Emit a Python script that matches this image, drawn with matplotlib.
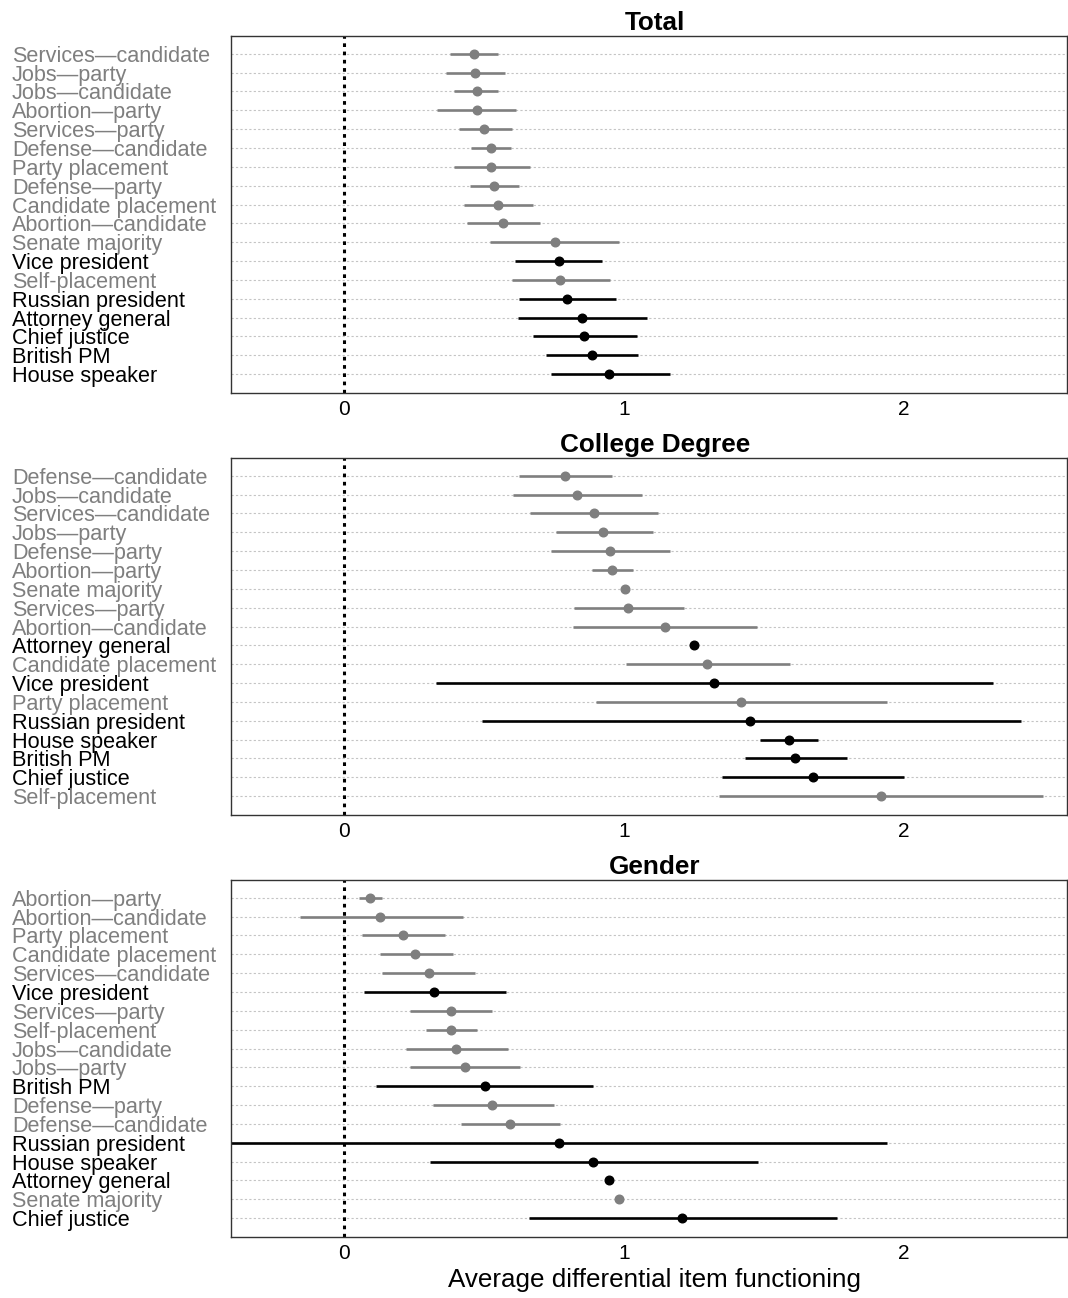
import numpy as np
import matplotlib
matplotlib.use("Agg")
import matplotlib.pyplot as plt

plt.rcParams['font.family'] = ['Liberation Sans', 'DejaVu Sans']

# Items that are political knowledge questions are drawn in black, the rest in grey
knowledge_items = ["Vice president", "Russian president", "Attorney general",
                   "Chief justice", "British PM", "House speaker"]

# Total
total_labels = ["Services—candidate", "Jobs—party", "Jobs—candidate", "Abortion—party",
                "Services—party", "Defense—candidate", "Party placement", "Defense—party",
                "Candidate placement", "Abortion—candidate", "Senate majority", "Vice president",
                "Self-placement", "Russian president", "Attorney general", "Chief justice",
                "British PM", "House speaker"]
total_est = [0.464, 0.468, 0.474, 0.474, 0.501, 0.526, 0.526, 0.536, 0.549, 0.568,
             0.754, 0.768, 0.773, 0.796, 0.849, 0.858, 0.887, 0.948]
total_lo = [0.379, 0.364, 0.394, 0.332, 0.412, 0.454, 0.394, 0.450, 0.427, 0.439,
            0.521, 0.612, 0.599, 0.625, 0.621, 0.674, 0.720, 0.739]
total_hi = [0.551, 0.576, 0.551, 0.613, 0.600, 0.595, 0.665, 0.624, 0.676, 0.700,
            0.983, 0.921, 0.950, 0.970, 1.083, 1.045, 1.051, 1.164]

# College degree
college_labels = ["Defense—candidate", "Jobs—candidate", "Services—candidate", "Jobs—party",
                  "Defense—party", "Abortion—party", "Senate majority", "Services—party",
                  "Abortion—candidate", "Attorney general", "Candidate placement",
                  "Vice president", "Party placement", "Russian president", "House speaker",
                  "British PM", "Chief justice", "Self-placement"]
college_est = [0.789, 0.833, 0.894, 0.926, 0.951, 0.959, 1.003, 1.016, 1.146, 1.252,
               1.298, 1.323, 1.418, 1.449, 1.589, 1.611, 1.675, 1.918]
college_lo = [0.626, 0.603, 0.666, 0.758, 0.739, 0.886, 1.003, 0.823, 0.817, 1.252,
              1.009, 0.329, 0.900, 0.492, 1.487, 1.434, 1.349, 1.338]
college_hi = [0.957, 1.066, 1.120, 1.104, 1.166, 1.032, 1.003, 1.215, 1.477, 1.252,
              1.592, 2.319, 1.939, 2.419, 1.694, 1.797, 1.999, 2.497]

# Gender
gender_labels = ["Abortion—party", "Abortion—candidate", "Party placement",
                 "Candidate placement", "Services—candidate", "Vice president",
                 "Services—party", "Self-placement", "Jobs—candidate", "Jobs—party",
                 "British PM", "Defense—party", "Defense—candidate", "Russian president",
                 "House speaker", "Attorney general", "Senate majority", "Chief justice"]
gender_est = [0.092, 0.130, 0.212, 0.254, 0.302, 0.321, 0.383, 0.383, 0.401, 0.431,
              0.502, 0.530, 0.592, 0.767, 0.891, 0.948, 0.982, 1.208]
gender_lo = [0.053, -0.158, 0.065, 0.129, 0.136, 0.071, 0.237, 0.294, 0.223, 0.237,
             0.113, 0.318, 0.417, -0.600, 0.308, 0.948, 0.982, 0.660]
gender_hi = [0.136, 0.426, 0.361, 0.390, 0.469, 0.579, 0.528, 0.476, 0.584, 0.627,
             0.888, 0.750, 0.770, 1.940, 1.478, 0.948, 0.982, 1.761]

panels = [
    ("Total", total_labels, total_est, total_lo, total_hi),
    ("College Degree", college_labels, college_est, college_lo, college_hi),
    ("Gender", gender_labels, gender_est, gender_lo, gender_hi),
]

W, H = 1068, 1298
fig = plt.figure(figsize=(W / 100, H / 100), dpi=100)

GREY = "#7f7f7f"
left_px, right_px = 231, 1067
tops_px = [36, 458, 880]
height_px = 357

for (title, labels, est, lo, hi), top in zip(panels, tops_px):
    ax = fig.add_axes([left_px / W, 1 - (top + height_px) / H,
                       (right_px - left_px) / W, height_px / H])
    y = np.arange(1, len(labels) + 1)
    colors = ["black" if lab in knowledge_items else GREY for lab in labels]

    # dotted row guides
    for yy in y:
        ax.axhline(yy, color="#c4c4c4", lw=0.8, ls=(0, (2, 2)), zorder=0)
    ax.axvline(0, color="black", lw=2.2, ls=(0, (1.2, 1.5)), zorder=1)

    for yy, e, l, h, c in zip(y, est, lo, hi, colors):
        ax.plot([l, h], [yy, yy], color=c, lw=1.9, solid_capstyle="butt", zorder=2)
        ax.plot(e, yy, "o", color=c, ms=6.2, mec=c, zorder=3)

    ax.set_xlim(-0.404, 2.583)
    ax.set_ylim(19.0, 0.06)
    ax.set_xticks([0, 1, 2])
    ax.set_xticklabels(["0", "1", "2"], fontsize=15)
    ax.set_yticks(y)
    ax.set_yticklabels(labels, fontsize=15.6)
    for tl, c in zip(ax.get_yticklabels(), colors):
        tl.set_color(c)
        tl.set_ha("left")
    ax.tick_params(axis="y", length=0, pad=(left_px - 12) * 0.72)
    ax.tick_params(axis="x", length=0, pad=5, colors="black")
    for sp in ax.spines.values():
        sp.set_color("#333333")
        sp.set_linewidth(1.0)
    ax.set_title(title, fontsize=18.8, fontweight="bold", pad=4, x=0.507)

ax.set_xlabel("Average differential item functioning", fontsize=18.7, labelpad=4)
ax.xaxis.label.set_x(0.507)

fig.savefig("out.png", dpi=100)
